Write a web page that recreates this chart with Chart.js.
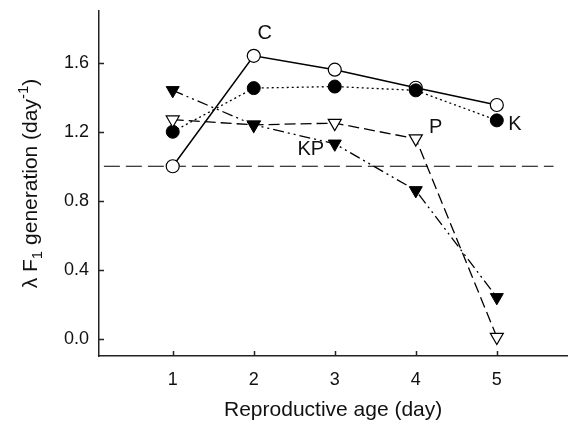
<!DOCTYPE html>
<html>
<head>
<meta charset="utf-8">
<script src="https://cdn.jsdelivr.net/npm/chart.js@4/dist/chart.umd.min.js"></script>
<style>
  html, body { margin: 0; padding: 0; background: #fff; }
</style>
</head>
<body>
<canvas id="lambdaChart" width="576" height="426"></canvas>
<script>
//Reproductive age (day) - x values
const ages = [1, 2, 3, 4, 5];

//Lambda F1 generation
const valuesC = [1.00, 1.64, 1.56, 1.455, 1.355];
const valuesK = [1.20, 1.453, 1.462, 1.44, 1.266];
const valuesP = [1.27, 1.24, 1.25, 1.16, 0.01];
const valuesKP = [1.44, 1.24, 1.13, 0.86, 0.24];

//Replacement level line (lambda = 1)
const refLineX = [0.15, 5.7];
const refLineY = 1.0;

//Tick labels
const xTicks = [1, 2, 3, 4, 5];
const yTicks = [0.0, 0.4, 0.8, 1.2, 1.6];

//Series labels written next to the lines
const seriesLabels = ['C', 'K', 'P', 'KP'];

const FONT = '"Liberation Sans", Arial, sans-serif';
const INK = '#111';

function toPoints(values) {
  return ages.map((a, i) => ({ x: a, y: values[i] }));
}

//Draws inward ticks, axis titles and the series labels
const decorPlugin = {
  id: 'decor',
  afterDraw(chart) {
    const ctx = chart.ctx;
    const area = chart.chartArea;
    const xs = chart.scales.x;
    const ys = chart.scales.y;

    ctx.save();
    ctx.strokeStyle = '#222';
    ctx.lineWidth = 1.5;
    xTicks.forEach((t) => {
      const px = Math.round(xs.getPixelForValue(t)) + 0.5;
      ctx.beginPath();
      ctx.moveTo(px, area.bottom);
      ctx.lineTo(px, area.bottom - 5);
      ctx.stroke();
    });
    yTicks.forEach((t) => {
      const py = Math.round(ys.getPixelForValue(t)) + 0.5;
      ctx.beginPath();
      ctx.moveTo(area.left, py);
      ctx.lineTo(area.left + 5, py);
      ctx.stroke();
    });

    ctx.fillStyle = INK;

    //x title
    ctx.font = '21px ' + FONT;
    ctx.textAlign = 'center';
    ctx.textBaseline = 'alphabetic';
    ctx.fillText('Reproductive age (day)', (area.left + area.right) / 2, 416);

    //y title with subscript and superscript
    const parts = [
      { t: '\u03BB F', size: 21, dy: 0 },
      { t: '1', size: 15, dy: 5 },
      { t: ' generation (day', size: 21, dy: 0 },
      { t: '-1', size: 15, dy: -9 },
      { t: ')', size: 21, dy: 0 },
    ];
    let total = 0;
    parts.forEach((p) => {
      ctx.font = p.size + 'px ' + FONT;
      p.w = ctx.measureText(p.t).width;
      total += p.w;
    });
    ctx.translate(37, (area.top + area.bottom) / 2);
    ctx.rotate(-Math.PI / 2);
    ctx.textAlign = 'left';
    let cx = -total / 2;
    parts.forEach((p) => {
      ctx.font = p.size + 'px ' + FONT;
      ctx.fillText(p.t, cx, p.dy);
      cx += p.w;
    });
    ctx.setTransform(1, 0, 0, 1, 0, 0);

    //series labels, anchored to one point of their series
    const anchors = [
      { ds: 3, i: 1, dx: 11, dy: -23 },
      { ds: 2, i: 4, dx: 18, dy: 3 },
      { ds: 1, i: 3, dx: 20, dy: -12 },
      { ds: 0, i: 2, dx: -24, dy: 5 },
    ];
    ctx.font = '20px ' + FONT;
    ctx.textAlign = 'center';
    ctx.textBaseline = 'middle';
    anchors.forEach((a, k) => {
      const pt = chart.getDatasetMeta(a.ds).data[a.i];
      ctx.fillText(seriesLabels[k], pt.x + a.dx, pt.y + a.dy + 1);
    });
    ctx.restore();
  },
};

function createChart() {
  const ctx = document.getElementById('lambdaChart').getContext('2d');
  return new Chart(ctx, {
    type: 'line',
    data: {
      datasets: [
        {
          label: 'KP',
          data: toPoints(valuesKP),
          borderColor: '#000',
          borderWidth: 1.3,
          borderDash: [11, 4, 2, 4, 2, 4],
          pointStyle: 'triangle',
          rotation: 180,
          pointRadius: 7.5,
          pointBackgroundColor: '#000',
          pointBorderColor: '#000',
          pointBorderWidth: 1,
        },
        {
          label: 'P',
          data: toPoints(valuesP),
          borderColor: '#000',
          borderWidth: 1.3,
          borderDash: [11, 5],
          pointStyle: 'triangle',
          rotation: 180,
          pointRadius: 7.5,
          pointBackgroundColor: '#fff',
          pointBorderColor: '#000',
          pointBorderWidth: 1.2,
        },
        {
          label: 'K',
          data: toPoints(valuesK),
          borderColor: '#000',
          borderWidth: 1.3,
          borderDash: [2, 3],
          pointRadius: 6.5,
          pointBackgroundColor: '#000',
          pointBorderColor: '#000',
          pointBorderWidth: 1,
        },
        {
          label: 'C',
          data: toPoints(valuesC),
          borderColor: '#000',
          borderWidth: 1.5,
          pointRadius: 6.5,
          pointBackgroundColor: '#fff',
          pointBorderColor: '#000',
          pointBorderWidth: 1.2,
        },
        {
          label: 'ref',
          data: refLineX.map((x) => ({ x: x, y: refLineY })),
          borderColor: '#000',
          borderWidth: 1.2,
          borderDash: [16, 6],
          pointRadius: 0,
        },
      ],
    },
    options: {
      responsive: false,
      animation: false,
      devicePixelRatio: 1,
      events: [],
      layout: { padding: { top: 11, right: 0, left: 0, bottom: 0 } },
      plugins: {
        legend: { display: false },
        tooltip: { enabled: false },
      },
      scales: {
        x: {
          type: 'linear',
          min: 0.09,
          max: 5.87,
          afterBuildTicks: (s) => { s.ticks = xTicks.map((v) => ({ value: v })); },
          afterFit: (s) => {
            s.height = 70;
            s.paddingLeft = 0;
            s.paddingRight = 0;
          },
          grid: { display: false, drawTicks: false },
          border: { display: true, color: '#222', width: 1.5 },
          ticks: {
            padding: 13,
            color: INK,
            font: { family: FONT, size: 18 },
            callback: (v) => String(v),
          },
        },
        y: {
          min: -0.1,
          max: 1.9,
          afterBuildTicks: (s) => { s.ticks = yTicks.map((v) => ({ value: v })); },
          afterFit: (s) => {
            s.width = 99;
            s.paddingTop = 0;
            s.paddingBottom = 0;
          },
          grid: { display: false, drawTicks: false },
          border: { display: true, color: '#222', width: 1.5 },
          ticks: {
            padding: 10,
            color: INK,
            font: { family: FONT, size: 18 },
            callback: (v) => v.toFixed(1),
          },
        },
      },
    },
    plugins: [decorPlugin],
  });
}

document.addEventListener('DOMContentLoaded', createChart);
</script>
</body>
</html>
